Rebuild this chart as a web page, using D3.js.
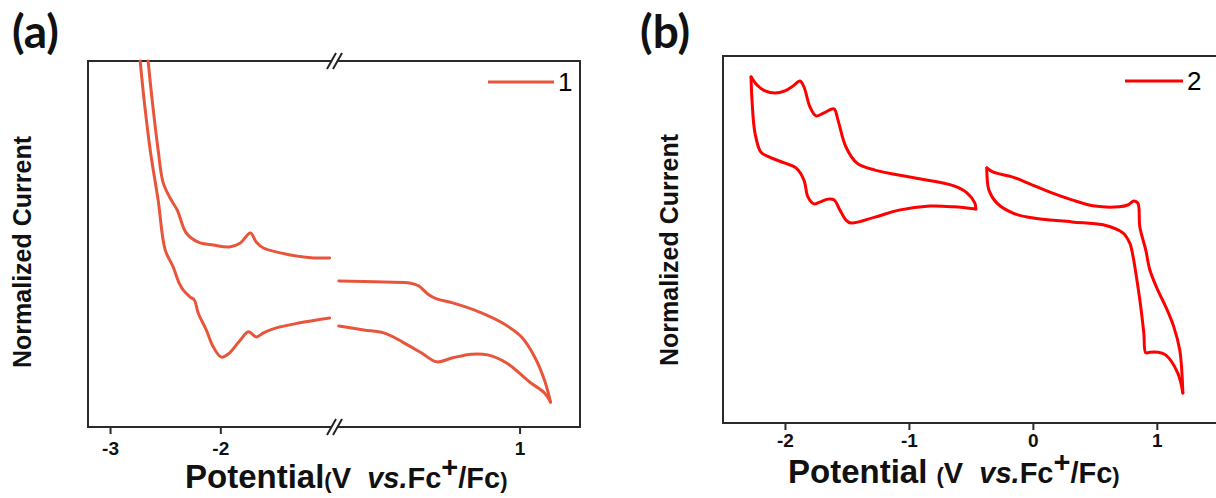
<!DOCTYPE html>
<html>
<head>
<meta charset="utf-8">
<script src="https://cdn.jsdelivr.net/npm/d3@7"></script>
<style>
  body { margin: 0; background: #fff; }
  svg text { font-family: "Liberation Sans", Arial, sans-serif; }
</style>
</head>
<body>
<svg></svg>
<script>
const width = 1216;
const height = 498;

// panel (a), compound 1 : [potential (V vs Fc+/Fc), normalized current]
const cv1LeftUpper = [
  [-2.655, 1.000], [-2.618, 0.893], [-2.564, 0.757], [-2.518, 0.667], [-2.445, 0.620],
  [-2.391, 0.593], [-2.309, 0.530], [-2.200, 0.505], [-2.064, 0.497], [-1.918, 0.492],
  [-1.818, 0.503], [-1.727, 0.530], [-1.673, 0.505], [-1.609, 0.489], [-1.364, 0.470],
  [-1.155, 0.462], [-1.009, 0.462]
];
const cv1LeftLower = [
  [-2.727, 1.000], [-2.691, 0.893], [-2.636, 0.757], [-2.564, 0.620], [-2.500, 0.484],
  [-2.427, 0.437], [-2.373, 0.393], [-2.336, 0.374], [-2.273, 0.355], [-2.236, 0.347],
  [-2.200, 0.311], [-2.127, 0.265], [-2.064, 0.219], [-1.991, 0.191], [-1.918, 0.202],
  [-1.818, 0.238], [-1.745, 0.260], [-1.673, 0.246], [-1.609, 0.257], [-1.500, 0.270],
  [-1.291, 0.284], [-1.009, 0.298]
];
const cv1RightUpper = [
  [-0.645, 0.399], [-0.236, 0.396], [0.009, 0.393], [0.080, 0.386], [0.170, 0.362],
  [0.245, 0.350], [0.391, 0.339], [0.636, 0.314], [0.845, 0.284], [1.018, 0.246],
  [1.140, 0.190], [1.230, 0.125], [1.282, 0.068]
];
const cv1RightLower = [
  [-0.645, 0.276], [-0.418, 0.265], [-0.236, 0.257], [-0.064, 0.232], [0.109, 0.202],
  [0.245, 0.178], [0.391, 0.189], [0.564, 0.199], [0.709, 0.197], [0.882, 0.175],
  [1.091, 0.123], [1.227, 0.093], [1.282, 0.068]
];

// panel (b), compound 2
const cv2LeftTop = [
  [-2.274, 0.943], [-2.226, 0.921], [-2.161, 0.905], [-2.081, 0.899], [-2.000, 0.905],
  [-1.935, 0.918], [-1.879, 0.932], [-1.847, 0.916], [-1.798, 0.861], [-1.750, 0.837],
  [-1.685, 0.845], [-1.605, 0.856], [-1.573, 0.826], [-1.508, 0.752], [-1.419, 0.708],
  [-1.274, 0.689], [-0.960, 0.668], [-0.637, 0.646], [-0.532, 0.627], [-0.468, 0.599],
  [-0.460, 0.583]
];
const cv2LeftBottom = [
  [-0.460, 0.583], [-0.637, 0.589], [-0.831, 0.591], [-1.081, 0.580], [-1.274, 0.561],
  [-1.468, 0.545], [-1.508, 0.553], [-1.556, 0.580], [-1.605, 0.608], [-1.653, 0.610],
  [-1.718, 0.602], [-1.766, 0.597], [-1.815, 0.616], [-1.847, 0.662], [-1.911, 0.695],
  [-2.000, 0.708], [-2.129, 0.725], [-2.194, 0.738], [-2.242, 0.790], [-2.266, 0.880],
  [-2.274, 0.943]
];
const cv2RightUpper = [
  [-0.371, 0.695], [-0.323, 0.684], [-0.161, 0.670], [-0.008, 0.649], [0.153, 0.627],
  [0.315, 0.608], [0.500, 0.591], [0.694, 0.589], [0.766, 0.594], [0.815, 0.605],
  [0.847, 0.599], [0.863, 0.534], [0.911, 0.471], [0.944, 0.417], [1.008, 0.362],
  [1.073, 0.316], [1.137, 0.262], [1.185, 0.199], [1.202, 0.139], [1.210, 0.082]
];
const cv2RightLower = [
  [1.210, 0.082], [1.169, 0.136], [1.073, 0.185], [1.008, 0.193], [0.944, 0.193],
  [0.911, 0.191], [0.895, 0.245], [0.863, 0.335], [0.798, 0.471], [0.782, 0.490],
  [0.726, 0.518], [0.565, 0.540], [0.315, 0.548], [-0.008, 0.559], [-0.161, 0.572],
  [-0.290, 0.599], [-0.355, 0.635], [-0.371, 0.681], [-0.371, 0.695]
];

const ticksALeft = [-3, -2];
const ticksARight = [1];
const ticksB = [-2, -1, 0, 1];
const legendA = "1";
const legendB = "2";

const colorA = "#e8553a";
const colorB = "#ff0000";

const svg = d3.select("svg")
  .attr("width", width)
  .attr("height", height);

// ---------------- panel (a) with broken x axis

const frameA = {left: 88, right: 580, top: 61, bottom: 427, brk: 335};

const xLeftA = d3.scaleLinear().domain([-3.2, -0.96]).range([frameA.left, frameA.brk]);
const xRightA = d3.scaleLinear().domain([-0.68, 1.55]).range([frameA.brk, frameA.right]);
const yA = d3.scaleLinear().domain([0, 1]).range([frameA.bottom, frameA.top]);

const lineLeftA = d3.line()
  .x(function(d) { return xLeftA(d[0]); })
  .y(function(d) { return yA(d[1]); })
  .curve(d3.curveCatmullRom.alpha(0.5));

const lineRightA = d3.line()
  .x(function(d) { return xRightA(d[0]); })
  .y(function(d) { return yA(d[1]); })
  .curve(d3.curveCatmullRom.alpha(0.5));

svg.append("rect")
  .attr("x", frameA.left)
  .attr("y", frameA.top)
  .attr("width", frameA.right - frameA.left)
  .attr("height", frameA.bottom - frameA.top)
  .attr("fill", "none")
  .attr("stroke", "#2b2b2b")
  .attr("stroke-width", 2);

[frameA.top, frameA.bottom].forEach(function(y) {
  svg.append("rect")
    .attr("x", frameA.brk - 4).attr("y", y - 3)
    .attr("width", 7).attr("height", 6)
    .attr("fill", "#fff");
  [-8, -2].forEach(function(dx) {
    svg.append("line")
      .attr("x1", frameA.brk + dx).attr("y1", y + 8)
      .attr("x2", frameA.brk + dx + 9).attr("y2", y - 8)
      .attr("stroke", "#222")
      .attr("stroke-width", 2);
  });
});

[cv1LeftUpper, cv1LeftLower].forEach(function(d) {
  svg.append("path").datum(d)
    .attr("d", lineLeftA)
    .attr("fill", "none")
    .attr("stroke", colorA)
    .attr("stroke-width", 3)
    .attr("stroke-linecap", "round");
});
[cv1RightUpper, cv1RightLower].forEach(function(d) {
  svg.append("path").datum(d)
    .attr("d", lineRightA)
    .attr("fill", "none")
    .attr("stroke", colorA)
    .attr("stroke-width", 3)
    .attr("stroke-linecap", "round");
});

function styleAxis(g) {
  g.select(".domain").remove();
  g.selectAll(".tick line").attr("stroke", "#2b2b2b").attr("stroke-width", 2);
  g.selectAll(".tick text")
    .attr("fill", "#111")
    .style("font-size", "19px")
    .style("font-weight", "bold");
}

svg.append("g")
  .attr("transform", "translate(0," + frameA.bottom + ")")
  .call(d3.axisBottom(xLeftA).tickValues(ticksALeft).tickSize(7).tickPadding(8)
    .tickFormat(function(d) { return String(d); }))
  .call(styleAxis);

svg.append("g")
  .attr("transform", "translate(0," + frameA.bottom + ")")
  .call(d3.axisBottom(xRightA).tickValues(ticksARight).tickSize(7).tickPadding(8)
    .tickFormat(function(d) { return String(d); }))
  .call(styleAxis);

// legend (a)
svg.append("line")
  .attr("x1", 488).attr("x2", 554).attr("y1", 82).attr("y2", 82)
  .attr("stroke", colorA).attr("stroke-width", 3);
svg.append("text")
  .attr("x", 558).attr("y", 91)
  .style("font-size", "26px")
  .text(legendA);

// ---------------- panel (b)

const frameB = {left: 723, right: 1225, top: 56, bottom: 423};

const xB = d3.scaleLinear().domain([-2.5, 1.55]).range([frameB.left, frameB.right]);
const yB = d3.scaleLinear().domain([0, 1]).range([frameB.bottom, frameB.top]);

const lineB = d3.line()
  .x(function(d) { return xB(d[0]); })
  .y(function(d) { return yB(d[1]); })
  .curve(d3.curveCatmullRom.alpha(0.5));

svg.append("rect")
  .attr("x", frameB.left)
  .attr("y", frameB.top)
  .attr("width", frameB.right - frameB.left)
  .attr("height", frameB.bottom - frameB.top)
  .attr("fill", "none")
  .attr("stroke", "#2b2b2b")
  .attr("stroke-width", 2);

[cv2LeftTop, cv2LeftBottom, cv2RightUpper, cv2RightLower].forEach(function(d) {
  svg.append("path").datum(d)
    .attr("d", lineB)
    .attr("fill", "none")
    .attr("stroke", colorB)
    .attr("stroke-width", 3)
    .attr("stroke-linecap", "round");
});

svg.append("g")
  .attr("transform", "translate(0," + frameB.bottom + ")")
  .call(d3.axisBottom(xB).tickValues(ticksB).tickSize(7).tickPadding(4)
    .tickFormat(function(d) { return String(d); }))
  .call(styleAxis);

svg.append("line")
  .attr("x1", 1125).attr("x2", 1183).attr("y1", 81).attr("y2", 81)
  .attr("stroke", colorB).attr("stroke-width", 3);
svg.append("text")
  .attr("x", 1187).attr("y", 90)
  .style("font-size", "26px")
  .text(legendB);

// ---------------- titles

function xTitle(x, y, gap) {
  const t = svg.append("text")
    .attr("x", x).attr("y", y)
    .attr("fill", "#111")
    .style("font-weight", "bold");
  t.append("tspan").style("font-size", "33px").text("Potential" + gap);
  t.append("tspan").style("font-size", "22px").text("(");
  t.append("tspan").style("font-size", "29px").text("V\u00a0\u00a0");
  t.append("tspan").style("font-size", "29px").style("font-style", "italic").text("vs.");
  t.append("tspan").style("font-size", "29px").text("Fc");
  t.append("tspan").style("font-size", "29px").attr("dy", -11).text("+");
  t.append("tspan").style("font-size", "29px").attr("dy", 11).text("/Fc");
  t.append("tspan").style("font-size", "22px").text(")");
}
xTitle(185, 488, "");
xTitle(788, 483, " ");

function yTitle(x, y) {
  svg.append("text")
    .attr("transform", "translate(" + x + "," + y + ") rotate(-90)")
    .attr("text-anchor", "middle")
    .attr("dy", "0.35em")
    .attr("fill", "#111")
    .style("font-size", "25px")
    .style("font-weight", "bold")
    .text("Normalized Current");
}
yTitle(22, 252);
yTitle(669, 250);

[["(a)", 12], ["(b)", 640]].forEach(function(p) {
  svg.append("text")
    .attr("x", p[1]).attr("y", 48)
    .attr("fill", "#111")
    .style("font-family", "Lato, sans-serif")
    .style("font-size", "46px")
    .style("font-weight", "bold")
    .text(p[0]);
});
</script>
</body>
</html>
